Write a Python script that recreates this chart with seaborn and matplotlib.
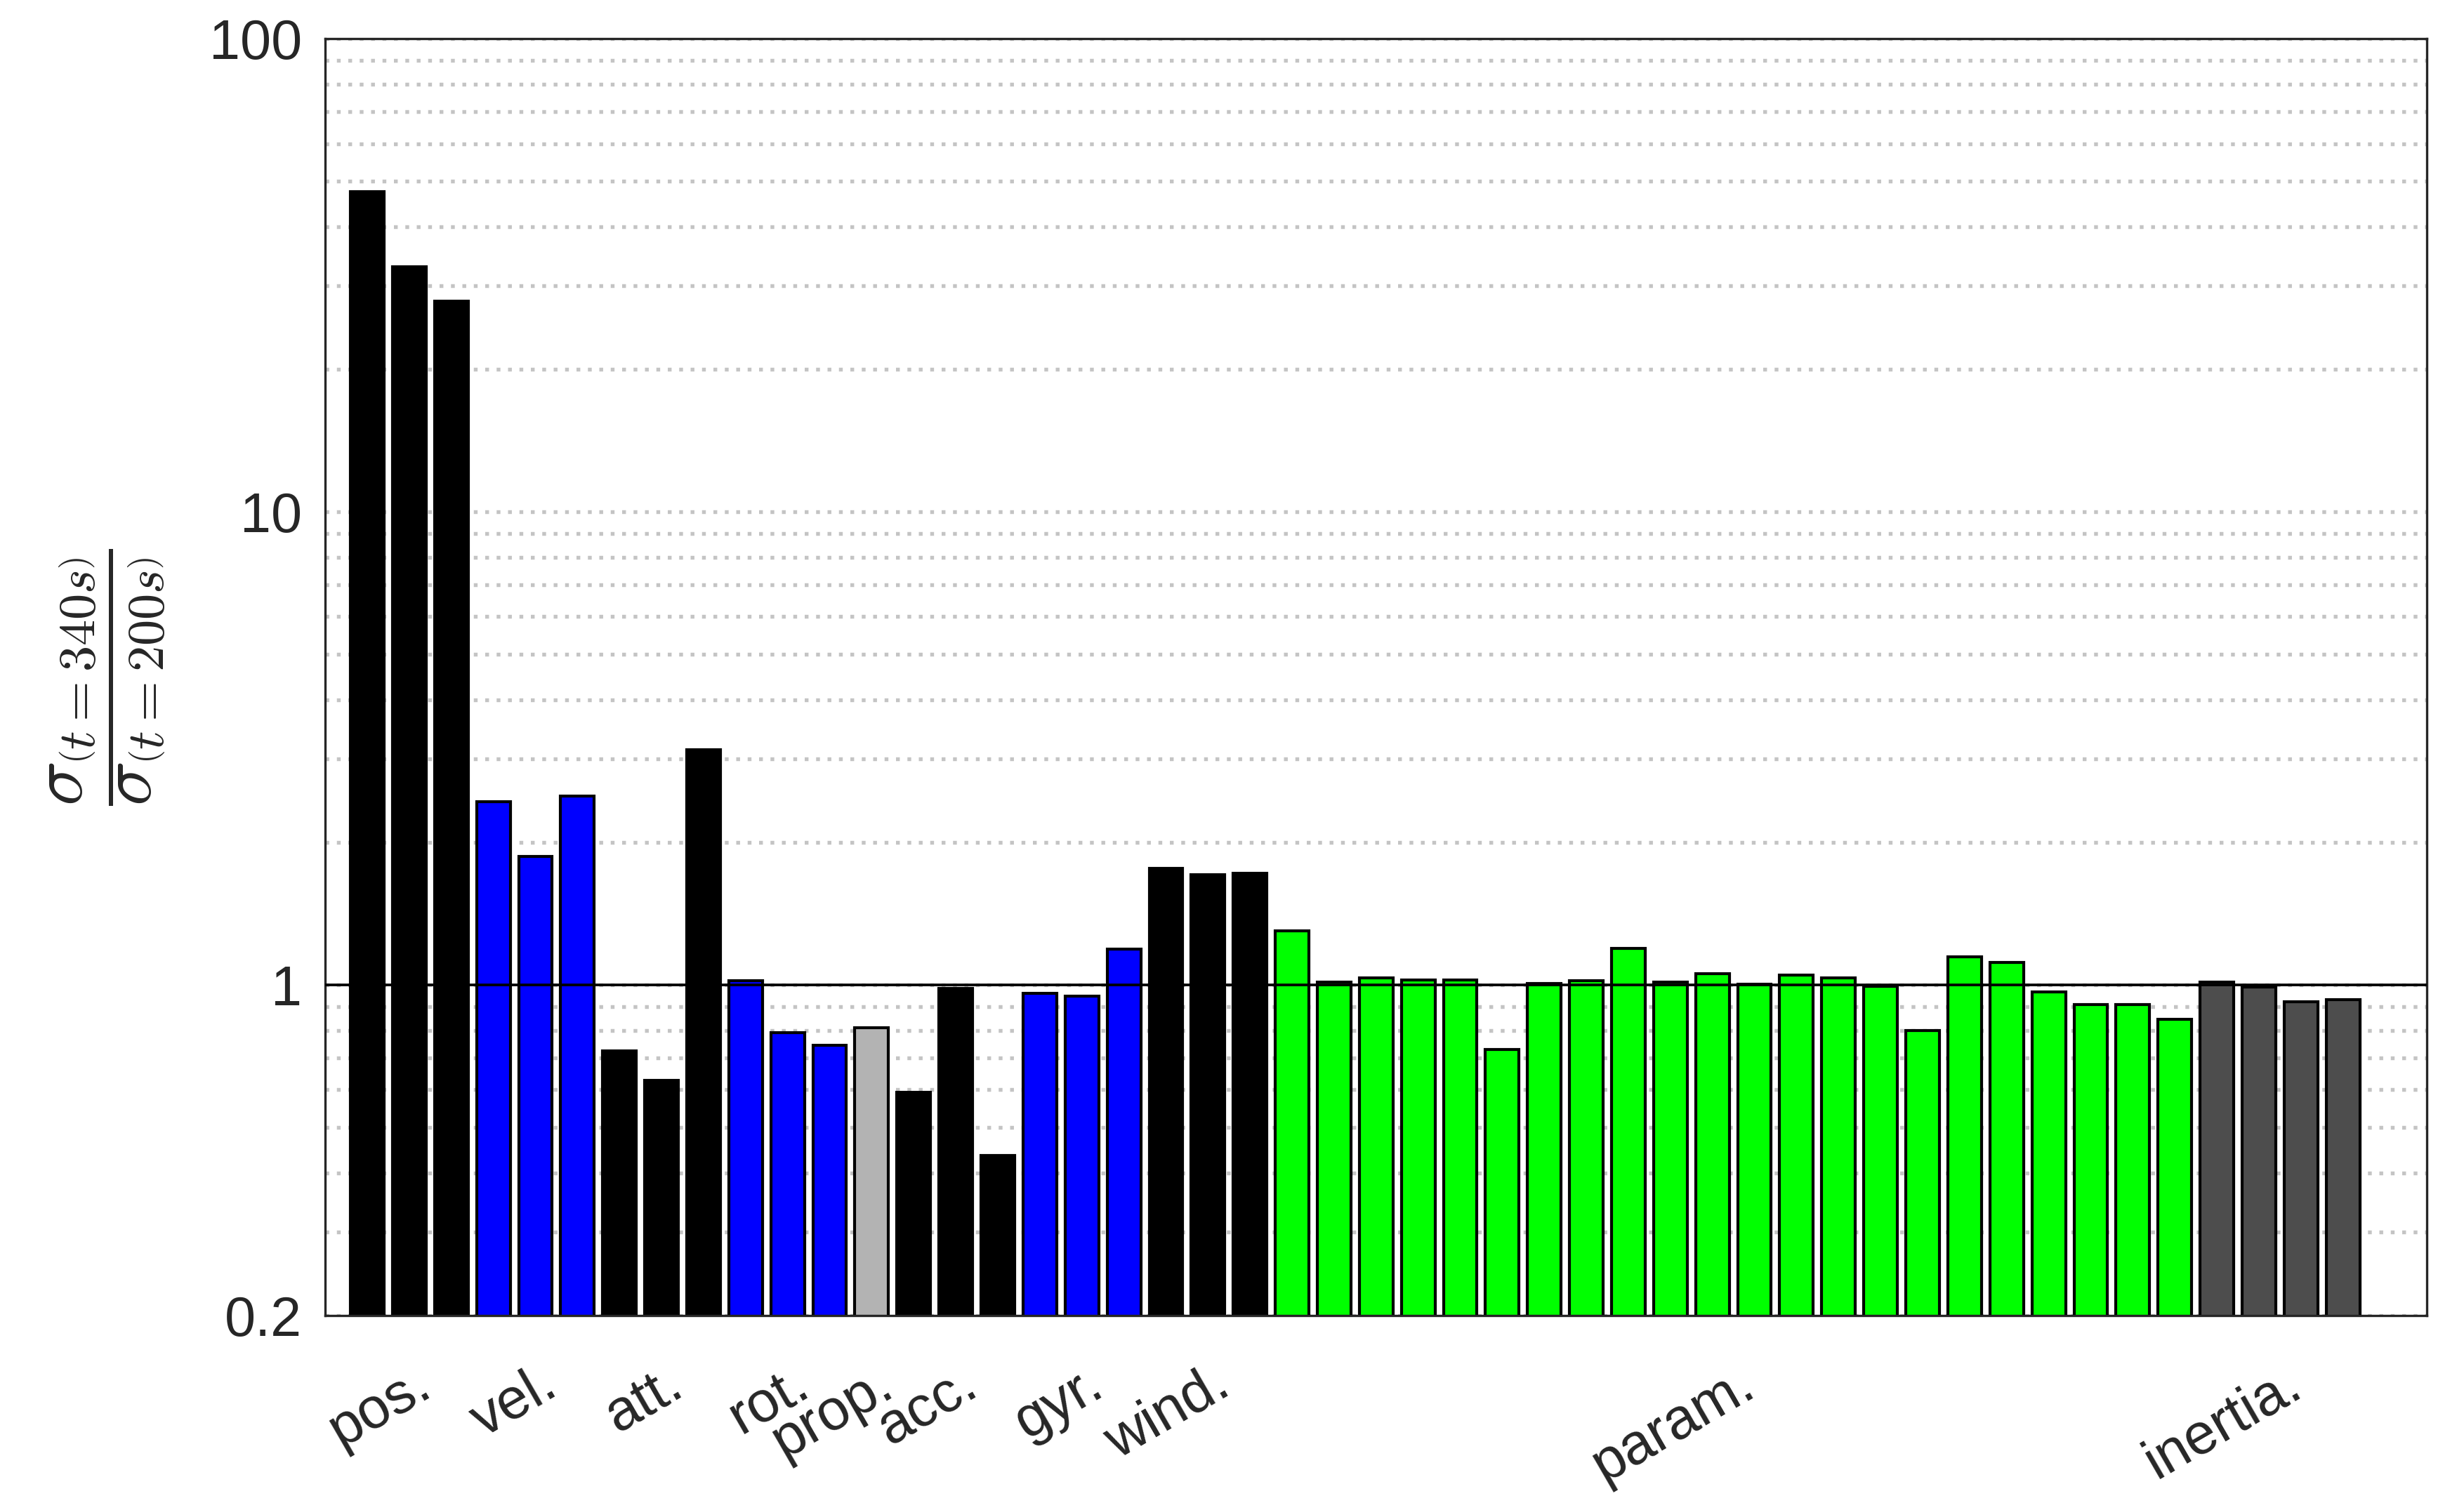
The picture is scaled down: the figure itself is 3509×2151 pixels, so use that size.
import matplotlib
matplotlib.use('Agg')
import matplotlib.pyplot as plt
import matplotlib.ticker as mticker
import matplotlib.transforms as mtransforms
import numpy as np
import pandas as pd
import seaborn as sns

# group names and bar values (sigma ratio t=340s / t=200s)
groups = ['pos.', 'vel.', 'att.', 'rot.', 'prop.', 'acc.', 'gyr.', 'wind.', 'param.', 'inertia.']
pos_vals = [47.5, 33.0, 27.9]
vel_vals = [2.44, 1.87, 2.51]
att_vals = [0.725, 0.629, 3.14]
rot_vals = [1.02, 0.793, 0.745]
prop_vals = [0.812]
acc_vals = [0.593, 0.983, 0.436]
gyr_vals = [0.960, 0.947, 1.19]
wind_vals = [1.76, 1.71, 1.72]
param_vals = [1.30, 1.012, 1.036, 1.023, 1.023, 0.73, 1.006, 1.019, 1.194, 1.015, 1.056,
              1.002, 1.047, 1.036, 0.992, 0.80, 1.145, 1.117, 0.967, 0.909, 0.909, 0.846]
inertia_vals = [1.015, 0.988, 0.922, 0.932]
group_colors = ['black', 'blue', 'black', 'blue', '#b3b3b3', 'black', 'blue', 'black',
                '#00ff00', '#4d4d4d']
y_ticks = [0.2, 1, 10, 100]
y_ticklabels = ['0.2', '1', '10', '100']

all_vals = [pos_vals, vel_vals, att_vals, rot_vals, prop_vals, acc_vals, gyr_vals,
            wind_vals, param_vals, inertia_vals]

rows = []
centers = []
i = 0
for name, vals, col in zip(groups, all_vals, group_colors):
    centers.append(i + (len(vals) - 1) / 2)
    for v in vals:
        rows.append({'bar': i, 'value': v, 'group': name, 'color': col})
        i += 1
df = pd.DataFrame(rows)
palette = dict(zip(df['bar'], df['color']))

sns.set_style('white')
plt.rcParams['font.family'] = ['Liberation Sans', 'DejaVu Sans']
plt.rcParams['mathtext.fontset'] = 'cm'

fig = plt.figure(figsize=(3509 / 300, 2151 / 300), dpi=300)
ax = fig.add_axes([0.132, 0.1288, 0.853, 0.8456])

sns.barplot(data=df, x='bar', y='value', hue='bar', palette=palette, legend=False,
            saturation=1, width=0.8, edgecolor='black', linewidth=1.0, ax=ax, zorder=2)
ax.set_yscale('log')
ax.axhline(1, color='black', linewidth=0.9, zorder=3)

ax.set_ylim(0.2, 100)
ax.set_xlim(-1, 49)
ax.yaxis.set_major_locator(mticker.FixedLocator(y_ticks))
ax.yaxis.set_major_formatter(mticker.FixedFormatter(y_ticklabels))
ax.yaxis.set_minor_locator(mticker.LogLocator(base=10, subs=np.arange(2, 10)))
ax.yaxis.set_minor_formatter(mticker.NullFormatter())
ax.yaxis.grid(True, which='both', color='#c4c4c4', linestyle=(0, (1, 2)), linewidth=1.3)
ax.set_axisbelow(True)
ax.tick_params(axis='y', which='both', length=0, pad=8, labelsize=19, labelcolor='#262626')

ax.set_xticks(centers)
ax.set_xticklabels(groups, rotation=30, ha='right', va='baseline',
                   rotation_mode='anchor', fontsize=19.5, color='#262626')
ax.tick_params(axis='x', length=0, pad=26.6)
shift = mtransforms.ScaledTranslation(8.4 / 72, 0, fig.dpi_scale_trans)
for lbl in ax.get_xticklabels():
    lbl.set_transform(lbl.get_transform() + shift)

ax.set_xlabel('')
ax.set_ylabel(r'$\dfrac{\sigma_{\left(t=340s\right)}}{\sigma_{\left(t=200s\right)}}$',
              fontsize=25.5, labelpad=14)

for sp in ax.spines.values():
    sp.set_visible(True)
    sp.set_color('#262626')
    sp.set_linewidth(0.8)

fig.savefig('out.png', dpi=300)
